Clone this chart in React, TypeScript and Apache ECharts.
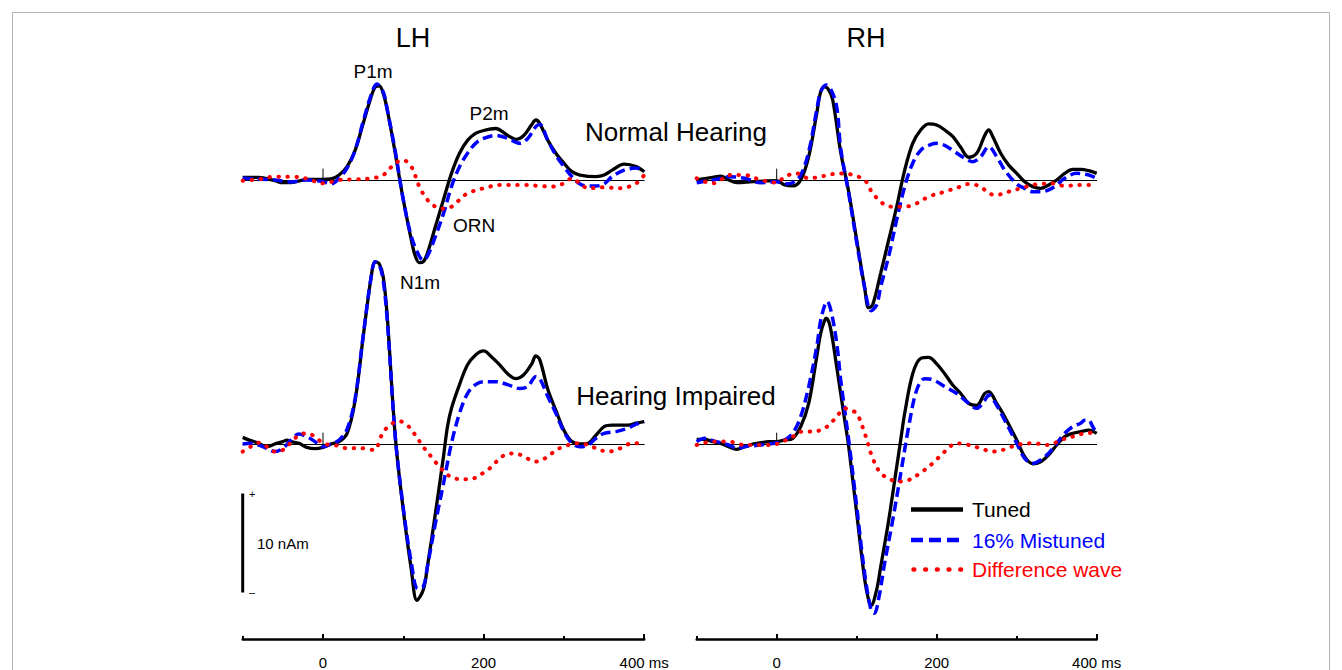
import React, { useEffect, useRef } from 'react';
import * as echarts from 'echarts';

// ---- Data (time in ms, dipole moment in nAm) ----
const lhNormalTuned = [[-100,0.27],[-80,0.27],[-60,-0.07],[-50,-0.27],[-40,-0.27],[-20,0.07],[0,0.07],[10,0.1],[20,0.5],[30,1.35],[40,3.0],[50,5.7],[60,8.4],[65,9.4],[70,9.5],[75,8.75],[80,7.1],[90,2.7],[95,0.3],[100,-2.0],[110,-6.06],[115,-7.7],[120,-8.35],[125,-8.25],[130,-7.4],[140,-4.7],[150,-2.0],[160,0.67],[170,2.7],[180,4.0],[190,4.7],[200,5.0],[215,5.2],[230,4.5],[240,4.1],[250,4.5],[260,5.6],[265,6.06],[270,5.7],[280,4.0],[290,2.7],[300,1.7],[310,0.84],[320,0.5],[340,0.34],[350,0.5],[360,1.0],[375,1.6],[390,1.35],[400,0.84]];
const lhNormalMistuned = [[-100,0.17],[-60,0],[-40,-0.2],[-20,0],[0,-0.17],[10,-0.4],[20,0.17],[30,1.2],[40,3.0],[50,5.9],[60,8.6],[67,9.7],[75,8.9],[80,7.1],[90,2.9],[100,-2.0],[110,-5.7],[120,-7.7],[125,-8.1],[130,-7.7],[140,-5.7],[150,-3.4],[160,-0.67],[170,1.35],[180,2.7],[190,3.7],[200,4.2],[215,4.5],[230,4.2],[245,3.7],[255,4.2],[265,5.4],[270,5.6],[280,4.0],[290,2.5],[300,1.35],[310,0.34],[320,-0.4],[330,-0.6],[340,-0.6],[350,-0.4],[360,0.34],[375,1.0],[390,1.2],[400,0.84]];
const lhNormalDiff = [[-100,-0.07],[-80,0.07],[-60,0.34],[-40,0.34],[-20,0.13],[0,-0.34],[20,0],[40,0.07],[60,0.17],[75,0.5],[90,1.7],[100,2.0],[110,1.35],[120,-0.67],[130,-2.0],[140,-2.7],[150,-2.9],[160,-2.7],[170,-2.0],[180,-1.35],[200,-0.84],[220,-0.5],[250,-0.5],[270,-0.6],[285,-0.67],[300,-0.34],[310,0.17],[320,-0.34],[330,-0.84],[350,-0.74],[370,-0.84],[390,-0.34],[400,0.5]];

const rhNormalTuned = [[-100,0],[-80,0.27],[-70,0.4],[-60,0],[-50,-0.27],[-30,-0.17],[0,-0.07],[10,-0.5],[20,-0.6],[30,0],[40,2.36],[50,6.7],[55,8.9],[60,9.4],[65,9.1],[70,8.1],[80,2.8],[90,-1.2],[100,-6.06],[110,-10.9],[115,-12.9],[120,-12.6],[130,-9.4],[140,-6.06],[150,-2.7],[160,1.0],[170,3.7],[180,5.05],[190,5.66],[200,5.55],[210,5.05],[220,4.4],[230,3.3],[240,2.3],[250,2.7],[260,4.5],[265,5.05],[270,4.4],[280,2.7],[290,1.5],[300,0.67],[310,-0.17],[320,-0.67],[330,-0.84],[340,-0.5],[350,0],[360,0.67],[370,1.08],[380,1.08],[390,0.94],[400,0.67]];
const rhNormalMistuned = [[-100,-0.27],[-80,0],[-70,0.17],[-60,0.34],[-40,0.17],[-20,-0.27],[0,-0.17],[10,-0.4],[20,-0.27],[30,0.5],[40,2.86],[50,7.07],[55,8.9],[62,9.6],[68,9.1],[75,7.4],[80,3.2],[90,-1.35],[100,-6.3],[110,-10.9],[118,-13.2],[125,-12.6],[130,-10.8],[140,-7.7],[150,-4.0],[160,-0.67],[170,1.7],[180,3.0],[190,3.5],[200,3.7],[210,3.5],[220,3.0],[235,2.2],[245,1.85],[255,2.36],[265,3.37],[275,2.36],[285,1.0],[300,-0.4],[310,-0.84],[320,-1.18],[330,-1.18],[340,-1.0],[350,-0.5],[360,0.17],[375,0.67],[390,0.5],[400,0.17]];
const rhNormalDiff = [[-100,0.17],[-80,-0.34],[-70,0],[-60,0.5],[-40,0.5],[-20,0],[0,-0.27],[10,0.34],[25,0.67],[40,0.17],[55,0.34],[70,0.6],[85,0.67],[95,0.5],[110,0],[120,-1.35],[135,-2.5],[145,-2.7],[160,-2.7],[175,-2.36],[190,-1.68],[210,-1.18],[230,-0.67],[240,-0.4],[255,-0.67],[265,-1.35],[275,-1.5],[290,-1.18],[305,-0.84],[320,-0.5],[330,-0.4],[345,-0.34],[360,-0.6],[380,-0.5],[400,-0.5]];

const lhImpTuned = [[-100,0.67],[-90,0.34],[-80,0.07],[-70,-0.27],[-60,0],[-50,0.24],[-45,0.4],[-40,0.24],[-30,0.07],[-20,-0.34],[-10,-0.47],[0,-0.34],[10,0],[20,0.24],[30,1.08],[40,4.4],[50,10.8],[60,16.9],[65,18.4],[70,18.2],[75,16.9],[80,12.9],[90,0.74],[100,-6.67],[110,-12.7],[117,-15.8],[125,-14.7],[130,-12.4],[140,-7.0],[150,-1.28],[155,1.75],[160,3.6],[170,6.0],[180,8.0],[190,9.0],[200,9.4],[210,8.8],[220,8.0],[230,7.1],[240,6.6],[250,7.0],[260,8.1],[265,8.9],[270,8.5],[280,5.5],[290,3.4],[300,1.4],[310,0.24],[320,0],[330,0.07],[340,0.9],[350,1.75],[360,1.9],[380,1.9],[390,2.1],[400,2.26]];
const lhImpMistuned = [[-100,0],[-90,0.07],[-80,-0.1],[-70,-0.44],[-60,-0.77],[-50,-0.44],[-40,0.4],[-30,1.0],[-20,0.74],[-10,0.24],[0,-0.27],[10,0],[20,0.4],[30,1.5],[40,4.6],[50,10.9],[60,16.9],[65,18.4],[70,18.1],[75,16.5],[80,12.5],[90,0.74],[100,-6.5],[110,-12.0],[118,-14.6],[125,-14.4],[130,-12.4],[140,-8.0],[150,-4.0],[160,0.07],[170,3.1],[180,5.1],[190,6.0],[200,6.3],[215,6.3],[230,6.0],[245,5.6],[255,5.8],[265,6.8],[270,6.6],[280,4.8],[290,3.1],[300,1.25],[310,0.07],[320,-0.27],[330,-0.1],[340,0.57],[350,1.08],[365,1.25],[380,1.6],[390,2.0],[400,2.26]];
const lhImpDiff = [[-100,-0.77],[-90,-0.27],[-80,0.13],[-70,-0.27],[-60,-0.77],[-50,-0.6],[-40,0.13],[-30,0.9],[-20,1.08],[-10,0.74],[0,0.07],[10,-0.1],[20,-0.2],[30,-0.44],[45,-0.4],[63,-0.6],[75,1.2],[85,2.0],[95,2.3],[105,1.9],[115,0.9],[125,-0.3],[135,-1.3],[145,-2.3],[155,-3.1],[165,-3.5],[180,-3.57],[190,-3.4],[200,-2.9],[210,-2.3],[220,-1.45],[230,-1.0],[240,-0.94],[250,-1.28],[265,-1.78],[280,-1.28],[290,-0.6],[300,-0.27],[310,0],[320,0.07],[330,-0.1],[345,-0.6],[355,-0.77],[370,-0.44],[385,0.07],[400,0.07]];

const rhImpTuned = [[-100,0.47],[-90,0.47],[-80,0.24],[-70,0.07],[-60,-0.27],[-50,-0.54],[-40,-0.27],[-30,0],[-20,0.13],[-10,0.24],[0,0.24],[10,0.4],[20,0.57],[30,1.75],[40,4.1],[50,8.8],[55,11.2],[60,12.5],[62,12.7],[67,11.8],[75,7.8],[80,5.1],[85,2.4],[90,-0.27],[100,-7.0],[110,-13.7],[115,-15.8],[118,-16.3],[125,-14.7],[130,-12.4],[140,-7.7],[150,-2.3],[155,0.4],[160,3.1],[170,7.1],[180,8.65],[190,8.75],[200,8.1],[210,7.1],[220,5.96],[230,5.1],[240,4.1],[250,3.9],[260,5.1],[265,5.3],[275,4.1],[285,2.76],[300,0.4],[310,-1.28],[320,-2.0],[330,-1.8],[340,-1.1],[350,-0.1],[360,0.74],[370,1.08],[380,1.25],[390,1.4],[400,1.08]];
const rhImpMistuned = [[-100,0.24],[-90,0.57],[-80,0.34],[-60,-0.1],[-50,-0.44],[-40,-0.27],[-20,-0.1],[0,0.13],[10,0.4],[20,1.08],[30,2.76],[40,5.8],[50,9.8],[55,12.5],[60,14.0],[63,14.4],[68,13.4],[75,10.2],[80,6.5],[90,0.4],[100,-6.3],[110,-13.1],[118,-16.8],[122,-17.1],[128,-15.4],[135,-12.0],[145,-7.7],[155,-3.0],[165,1.75],[175,5.45],[185,6.6],[195,6.5],[210,5.8],[225,5.1],[240,4.1],[250,3.6],[260,4.4],[265,4.95],[275,3.9],[285,2.4],[300,0.07],[310,-1.45],[320,-1.95],[330,-1.6],[340,-0.94],[350,0.07],[360,1.08],[370,1.75],[380,2.1],[385,2.4],[390,2.4],[395,1.75],[400,1.08]];
const rhImpDiff = [[-100,-0.1],[-80,0.24],[-60,0.24],[-40,-0.1],[-20,-0.1],[0,0],[10,0.34],[20,0.74],[30,1.25],[40,1.25],[55,1.4],[65,1.9],[75,2.76],[85,3.6],[92,3.4],[100,3.1],[110,1.08],[120,-1.45],[130,-2.96],[140,-3.47],[150,-3.8],[165,-3.64],[180,-2.9],[195,-1.95],[210,-0.77],[225,0.07],[240,-0.1],[255,-0.44],[270,-0.77],[285,-0.54],[300,-0.1],[320,0.07],[340,-0.1],[355,0.4],[370,0.74],[385,1.08],[400,1.14]];

const zeroTick = [[0, 0], [0, 1.15]];
const scaleBar = [[-100, -5], [-100, -15]];

const panelTitles = ['LH', 'RH'];
const rowTitles = ['Normal Hearing', 'Hearing Impaired'];
const componentLabels = ['P1m', 'P2m', 'ORN', 'N1m'];
const legendNames = ['Tuned', '16% Mistuned', 'Difference wave'];
const timeTickLabels: Record<number, string> = { 0: '0', 200: '200', 400: '400 ms' };

const FONT = '"Liberation Sans", Arial, Helvetica, sans-serif';
const BLACK = '#000000';
const BLUE = '#0000ff';
const RED = '#ff0000';

const styleTuned = { color: BLACK, width: 3.3, type: 'solid' as const };
const styleMistuned = { color: BLUE, width: 3.5, type: [10, 5] as any };
const styleDiff = { color: RED, width: 4, type: [0.5, 8.5] as any, cap: 'round' as const };

export default function App() {
  const ref = useRef<HTMLDivElement>(null);

  useEffect(() => {
    document.body.style.margin = '0';
    if (!ref.current) return;
    const chart = echarts.init(ref.current, undefined, { renderer: 'svg' });

    const LH_L = 242.7, LH_W = 401.5, RH_L = 696.7, RH_W = 400;
    const TOP_T = 61.2, TOP_H = 217.8, BOT_T = 246, BOT_H = 376.2;

    const grids = [
      { left: LH_L, top: TOP_T, width: LH_W, height: TOP_H },
      { left: RH_L, top: TOP_T, width: RH_W, height: TOP_H },
      { left: LH_L, top: BOT_T, width: LH_W, height: BOT_H },
      { left: RH_L, top: BOT_T, width: RH_W, height: BOT_H },
      { left: LH_L, top: 620, width: LH_W, height: 20 },
      { left: LH_L + 80.3, top: 620, width: LH_W - 80.3, height: 20 },
      { left: RH_L, top: 620, width: RH_W, height: 20 },
      { left: RH_L + 80, top: 620, width: RH_W - 80, height: 20 },
    ];

    const baseX = (i: number) => ({
      gridIndex: i, type: 'value', min: -100, max: 400,
      axisLine: { show: true, onZero: true, lineStyle: { color: BLACK, width: 1 } },
      axisTick: { show: false }, axisLabel: { show: false }, splitLine: { show: false },
    });
    const timeAxis = (i: number) => ({
      gridIndex: i, type: 'value', min: -100, max: 400, interval: 100, position: 'bottom',
      axisLine: { show: true, onZero: false, lineStyle: { color: BLACK, width: 2.5 } },
      axisTick: { show: true, inside: true, length: 3, lineStyle: { color: BLACK, width: 2 } },
      axisLabel: {
        show: true, margin: 16, fontSize: 15, color: BLACK, fontFamily: FONT,
        formatter: (v: number) => timeTickLabels[v] ?? '',
      },
      splitLine: { show: false },
    });
    const majorTickAxis = (i: number) => ({
      gridIndex: i, type: 'value', min: 0, max: 400, interval: 200, position: 'bottom',
      axisLine: { show: false, onZero: false },
      axisTick: { show: true, inside: true, length: 6, lineStyle: { color: BLACK, width: 2 } },
      axisLabel: { show: false }, splitLine: { show: false },
    });

    const yRanges = [[-10, 12], [-10, 12], [-18, 20], [-18, 20], [0, 1], [0, 1], [0, 1], [0, 1]];

    const panels = [
      [lhNormalTuned, lhNormalMistuned, lhNormalDiff],
      [rhNormalTuned, rhNormalMistuned, rhNormalDiff],
      [lhImpTuned, lhImpMistuned, lhImpDiff],
      [rhImpTuned, rhImpMistuned, rhImpDiff],
    ];
    const styles = [styleTuned, styleMistuned, styleDiff];

    const series: any[] = [];
    panels.forEach((p, i) => {
      series.push({
        type: 'line', name: 'zero', xAxisIndex: i, yAxisIndex: i, data: zeroTick,
        symbol: 'none', silent: true, clip: false, lineStyle: { color: BLACK, width: 1 }, z: 1,
      });
      p.forEach((d, k) => {
        series.push({
          type: 'line', name: legendNames[k], xAxisIndex: i, yAxisIndex: i, data: d,
          symbol: 'none', showSymbol: false, smooth: 0.35, silent: true, clip: false,
          lineStyle: styles[k], z: 2 + k,
        });
      });
    });
    series.push({
      type: 'line', name: 'scale', xAxisIndex: 2, yAxisIndex: 2, data: scaleBar,
      symbol: 'none', silent: true, clip: false, lineStyle: { color: BLACK, width: 3 },
    });

    const txt = (text: string, x: number, y: number, size: number, align = 'center', color = BLACK) => ({
      type: 'text', x, y, silent: true,
      style: { text, fontSize: size, fontFamily: FONT, fill: color, align, verticalAlign: 'middle' },
    });

    const legendX1 = 911, legendX2 = 963, legendTextX = 972;
    const legendY = [509.5, 540, 569.5];

    const graphic: any[] = [
      { type: 'rect', silent: true, z: -10, shape: { x: 12.5, y: 12.5, width: 1317, height: 700 },
        style: { fill: 'none', stroke: '#b3b3b3', lineWidth: 1 } },
      txt(panelTitles[0], 413, 38, 27),
      txt(panelTitles[1], 866, 38, 27),
      txt(rowTitles[0], 676, 132, 26),
      txt(rowTitles[1], 676, 396, 26),
      txt(componentLabels[0], 373, 71, 19),
      txt(componentLabels[1], 489, 113, 19),
      txt(componentLabels[2], 474, 225, 19),
      txt(componentLabels[3], 420, 282, 19),
      txt('+', 249, 494, 11, 'left'),
      txt('–', 249, 592, 11, 'left'),
      txt('10 nAm', 257, 543, 15, 'left'),
      { type: 'line', silent: true, shape: { x1: legendX1, y1: legendY[0], x2: legendX2, y2: legendY[0] },
        style: { stroke: BLACK, lineWidth: 4.5 } },
      { type: 'line', silent: true, shape: { x1: legendX1, y1: legendY[1], x2: legendX2, y2: legendY[1] },
        style: { stroke: BLUE, lineWidth: 4.5, lineDash: [12, 6] } },
      { type: 'line', silent: true, shape: { x1: legendX1 + 2.5, y1: legendY[2], x2: legendX2, y2: legendY[2] },
        style: { stroke: RED, lineWidth: 4.5, lineDash: [0.8, 10.9], lineCap: 'round' } },
      txt(legendNames[0], legendTextX, legendY[0], 21, 'left', BLACK),
      txt(legendNames[1], legendTextX, legendY[1], 21, 'left', BLUE),
      txt(legendNames[2], legendTextX, legendY[2], 21, 'left', RED),
    ];

    chart.setOption({
      animation: false,
      backgroundColor: '#ffffff',
      grid: grids,
      xAxis: [baseX(0), baseX(1), baseX(2), baseX(3), timeAxis(4), majorTickAxis(5), timeAxis(6), majorTickAxis(7)],
      yAxis: yRanges.map((r, i) => ({ gridIndex: i, type: 'value', show: false, min: r[0], max: r[1] })),
      series,
      graphic,
    });

    return () => chart.dispose();
  }, []);

  return <div ref={ref} style={{ width: 1342, height: 670 }} />;
}
